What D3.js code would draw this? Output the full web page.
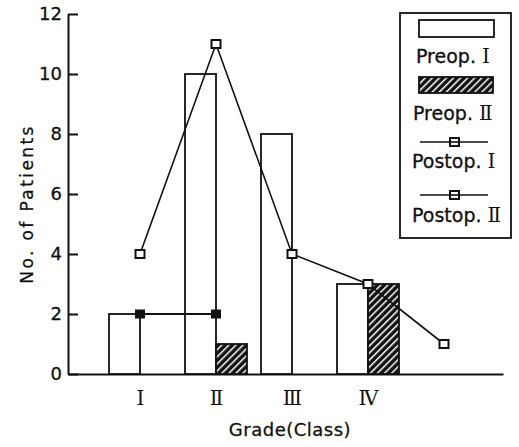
<!DOCTYPE html>
<html>
<head>
<meta charset="utf-8">
<script src="https://cdn.jsdelivr.net/npm/d3@7"></script>
<style>
  body { margin: 0; background: #fff; }
  svg { display: block; }
  .num { font-family: "DejaVu Sans", sans-serif; }
  .roman { font-family: "DejaVu Serif", "Liberation Serif", serif; }
</style>
</head>
<body>
<div id="chart"></div>
<script>
// Data
const grades = ["Ⅰ", "Ⅱ", "Ⅲ", "Ⅳ"];
const preop1 = [2, 10, 8, 3];
const preop2 = [0, 1, 0, 3];
const postop1 = [4, 11, 4, 3, 1]; // last point sits past grade IV
const postop2 = [2, 2];
const yTicks = [0, 2, 4, 6, 8, 10, 12];
const legendLabels = ["Preop. Ⅰ", "Preop. Ⅱ", "Postop. Ⅰ", "Postop. Ⅱ"];

const width = 519, height = 447;
const ink = "#111";

const svg = d3.select("#chart")
  .append("svg")
  .attr("width", width)
  .attr("height", height);

svg.append("rect").attr("width", width).attr("height", height).attr("fill", "#fff");

// hatch pattern for Preop. II
const defs = svg.append("defs");
const pat = defs.append("pattern")
  .attr("id", "hatch")
  .attr("patternUnits", "userSpaceOnUse")
  .attr("width", 5)
  .attr("height", 5)
  .attr("patternTransform", "rotate(45)");
pat.append("rect").attr("width", 5).attr("height", 5).attr("fill", ink);
pat.append("rect").attr("x", 0).attr("width", 1.5).attr("height", 5).attr("fill", "#fff");

// scales: grade index (0 = I) -> x
const x = d3.scaleLinear().domain([0, 4]).range([140, 444]);
const y = d3.scaleLinear().domain([0, 12]).range([374, 14]);
const barW = 31;

// y axis
const yAxis = svg.append("g")
  .attr("transform", "translate(68,0)")
  .call(d3.axisLeft(y).tickValues(yTicks).tickSize(-10).tickSizeOuter(0).tickPadding(6));
yAxis.select(".domain").attr("stroke", ink).attr("stroke-width", 2);
yAxis.selectAll(".tick line").attr("stroke", ink).attr("stroke-width", 2);
yAxis.selectAll(".tick text")
  .attr("class", "num")
  .attr("font-size", 18)
  .attr("stroke", ink)
  .attr("stroke-width", 0.3)
  .attr("fill", ink);

// x axis
const xAxisScale = d3.scaleLinear()
  .domain([x.invert(68), x.invert(503)])
  .range([68, 503]);
const xAxis = svg.append("g")
  .attr("transform", "translate(0,374)")
  .call(d3.axisBottom(xAxisScale)
    .tickValues(d3.range(grades.length))
    .tickFormat(i => grades[i])
    .tickSize(0).tickPadding(17));
xAxis.select(".domain").attr("stroke", ink).attr("stroke-width", 2);
xAxis.selectAll(".tick text")
  .attr("class", "roman")
  .attr("font-size", 20)
  .attr("fill", ink);

// axis titles
svg.append("text")
  .attr("class", "num")
  .attr("x", 290)
  .attr("y", 436)
  .attr("text-anchor", "middle")
  .attr("font-size", 18)
  .attr("letter-spacing", 0.5)
  .attr("stroke", ink)
  .attr("stroke-width", 0.3)
  .attr("fill", ink)
  .text("Grade(Class)");

svg.append("text")
  .attr("class", "num")
  .attr("transform", "rotate(-90)")
  .attr("x", -204)
  .attr("y", 33)
  .attr("text-anchor", "middle")
  .attr("font-size", 17)
  .attr("letter-spacing", 2.4)
  .attr("stroke", ink)
  .attr("stroke-width", 0.3)
  .attr("fill", ink)
  .text("No. of Patients");

// bars
svg.selectAll(".pre1")
  .data(preop1)
  .enter().append("rect")
  .attr("x", (d, i) => x(i) - barW)
  .attr("y", d => y(d))
  .attr("width", barW)
  .attr("height", d => y(0) - y(d))
  .attr("fill", "#fff")
  .attr("stroke", ink)
  .attr("stroke-width", 1.8);

svg.selectAll(".pre2")
  .data(preop2.map((v, i) => ({ v, i })).filter(d => d.v > 0))
  .enter().append("rect")
  .attr("x", d => x(d.i))
  .attr("y", d => y(d.v))
  .attr("width", barW)
  .attr("height", d => y(0) - y(d.v))
  .attr("fill", "url(#hatch)")
  .attr("stroke", ink)
  .attr("stroke-width", 1.8);

// lines
const line = d3.line()
  .x((d, i) => x(i))
  .y(d => y(d));

svg.append("path")
  .datum(postop1)
  .attr("d", line)
  .attr("fill", "none")
  .attr("stroke", ink)
  .attr("stroke-width", 1.6);

svg.append("path")
  .datum(postop2)
  .attr("d", line)
  .attr("fill", "none")
  .attr("stroke", ink)
  .attr("stroke-width", 1.8);

svg.selectAll(".post2")
  .data(postop2)
  .enter().append("rect")
  .attr("x", (d, i) => x(i) - 5)
  .attr("y", d => y(d) - 4.5)
  .attr("width", 10)
  .attr("height", 9)
  .attr("fill", ink);

svg.selectAll(".post1")
  .data(postop1)
  .enter().append("rect")
  .attr("x", (d, i) => x(i) - 4.5)
  .attr("y", d => y(d) - 4)
  .attr("width", 9)
  .attr("height", 8)
  .attr("fill", "#fff")
  .attr("stroke", ink)
  .attr("stroke-width", 2);

// legend
const legend = svg.append("g");
legend.append("rect")
  .attr("x", 400).attr("y", 13)
  .attr("width", 111).attr("height", 225)
  .attr("fill", "#fff")
  .attr("stroke", ink)
  .attr("stroke-width", 1.8);

legend.append("rect")
  .attr("x", 419).attr("y", 20).attr("width", 75).attr("height", 17)
  .attr("fill", "#fff").attr("stroke", ink).attr("stroke-width", 1.8);
legend.append("rect")
  .attr("x", 419).attr("y", 77).attr("width", 74).attr("height", 16)
  .attr("fill", "url(#hatch)").attr("stroke", ink).attr("stroke-width", 1.8);

[142, 195].forEach(ly => {
  legend.append("line")
    .attr("x1", 420).attr("x2", 488).attr("y1", ly).attr("y2", ly)
    .attr("stroke", ink).attr("stroke-width", 1.6);
  legend.append("rect")
    .attr("x", 450).attr("y", ly - 4).attr("width", 9).attr("height", 8)
    .attr("fill", "#fff").attr("stroke", ink).attr("stroke-width", 2);
  legend.append("line")
    .attr("x1", 450).attr("x2", 459).attr("y1", ly).attr("y2", ly)
    .attr("stroke", ink).attr("stroke-width", 1.6);
});

const labelPos = [[416, 63], [413, 120], [412, 168], [412, 222]];
legendLabels.forEach((t, i) => {
  const parts = t.split(" ");
  const txt = legend.append("text")
    .attr("x", labelPos[i][0])
    .attr("y", labelPos[i][1])
    .attr("font-size", 19)
    .attr("fill", ink);
  txt.append("tspan").attr("class", "num")
    .attr("stroke", ink).attr("stroke-width", 0.3)
    .text(parts[0] + " ");
  txt.append("tspan").attr("class", "roman").attr("font-size", 20).text(parts[1]);
});
</script>
</body>
</html>
